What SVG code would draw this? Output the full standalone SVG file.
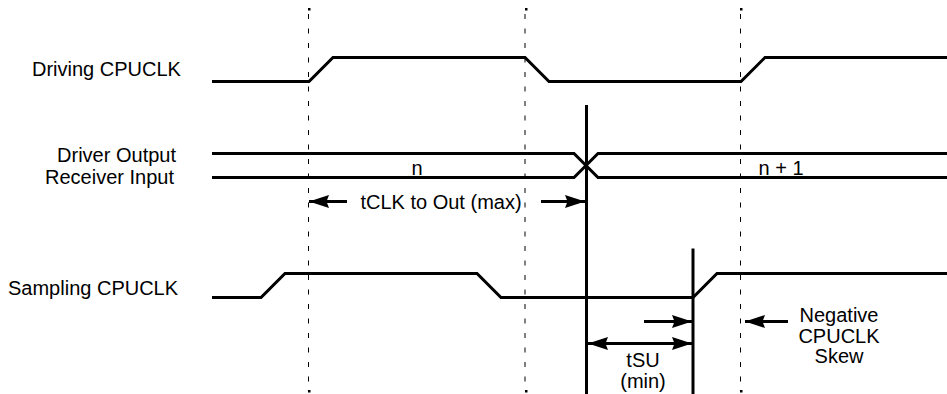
<svg xmlns="http://www.w3.org/2000/svg" width="947" height="394" viewBox="0 0 947 394">
<style>
.sig{fill:none;stroke:#000;stroke-width:3;stroke-linejoin:miter}
.grid{fill:none;stroke:#000;stroke-width:1;stroke-dasharray:5 9.5}
.arr{fill:none;stroke:#000;stroke-width:3}
text{font-family:"Liberation Sans",Arial,sans-serif;font-size:20px;fill:#000}
</style>
<defs>
<marker id="ah" viewBox="0 0 20 13" refX="20" refY="6.5" markerWidth="20" markerHeight="13" markerUnits="userSpaceOnUse" orient="auto-start-reverse">
<path d="M0,0 L20,6.5 L0,13 L2.5,6.5 z" fill="#000"/>
</marker>
</defs>
<rect width="947" height="394" fill="#fff"/>
<g id="gridlines">
<line class="grid" x1="308.5" y1="14" x2="308.5" y2="388"/>
<line class="grid" x1="525" y1="14" x2="525" y2="388"/>
<line class="grid" x1="740.5" y1="14" x2="740.5" y2="388"/>
<rect x="308" y="8" width="2.5" height="2.5"/><rect x="525" y="8" width="2.5" height="2.5"/><rect x="740" y="8" width="2.5" height="2.5"/>
<rect x="308" y="390" width="2.5" height="2.5"/><rect x="525" y="390" width="2.5" height="2.5"/><rect x="740" y="390" width="2.5" height="2.5"/>
</g>
<g id="driving-clk">
<text x="32" y="75.5">Driving CPUCLK</text>
<polyline class="sig" points="212,81.5 309,81.5 333,57.5 525,57.5 549,81.5 741,81.5 765,57.5 947,57.5"/>
</g>
<g id="bus">
<text x="176" y="161.5" text-anchor="end">Driver Output</text>
<text x="174" y="183.5" text-anchor="end">Receiver Input</text>
<polyline class="sig" points="212,153.5 574,153.5 598,177.5 947,177.5"/>
<polyline class="sig" points="212,177.5 574,177.5 598,153.5 947,153.5"/>
<text x="417" y="175" text-anchor="middle">n</text>
<text x="781" y="175" text-anchor="middle">n + 1</text>
</g>
<g id="sampling-clk">
<text x="8" y="295">Sampling CPUCLK</text>
<polyline class="sig" points="212,297.5 261,297.5 285,273.5 477,273.5 501,297.5 693,297.5 717,273.5 947,273.5"/>
</g>
<g id="markers">
<line class="sig" x1="586.5" y1="105" x2="586.5" y2="394"/>
<line class="sig" x1="693" y1="248.5" x2="693" y2="394"/>
</g>
<g id="connectors">
<line class="arr" x1="347" y1="201.5" x2="309" y2="201.5" marker-end="url(#ah)"/>
<line class="arr" x1="541" y1="201.5" x2="585" y2="201.5" marker-end="url(#ah)"/>
<line class="arr" x1="644" y1="321.5" x2="692" y2="321.5" marker-end="url(#ah)"/>
<line class="arr" x1="588" y1="343.5" x2="692" y2="343.5" marker-start="url(#ah)" marker-end="url(#ah)"/>
<line class="arr" x1="788" y1="321.5" x2="745" y2="321.5" marker-end="url(#ah)"/>
</g>
<g id="labels">
<text x="441" y="209" text-anchor="middle">tCLK to Out (max)</text>
<text x="643" y="367" text-anchor="middle">tSU</text>
<text x="643" y="387.5" text-anchor="middle">(min)</text>
<text x="839" y="321.5" text-anchor="middle">Negative</text>
<text x="839" y="342.5" text-anchor="middle">CPUCLK</text>
<text x="839" y="363" text-anchor="middle">Skew</text>
</g>
</svg>
